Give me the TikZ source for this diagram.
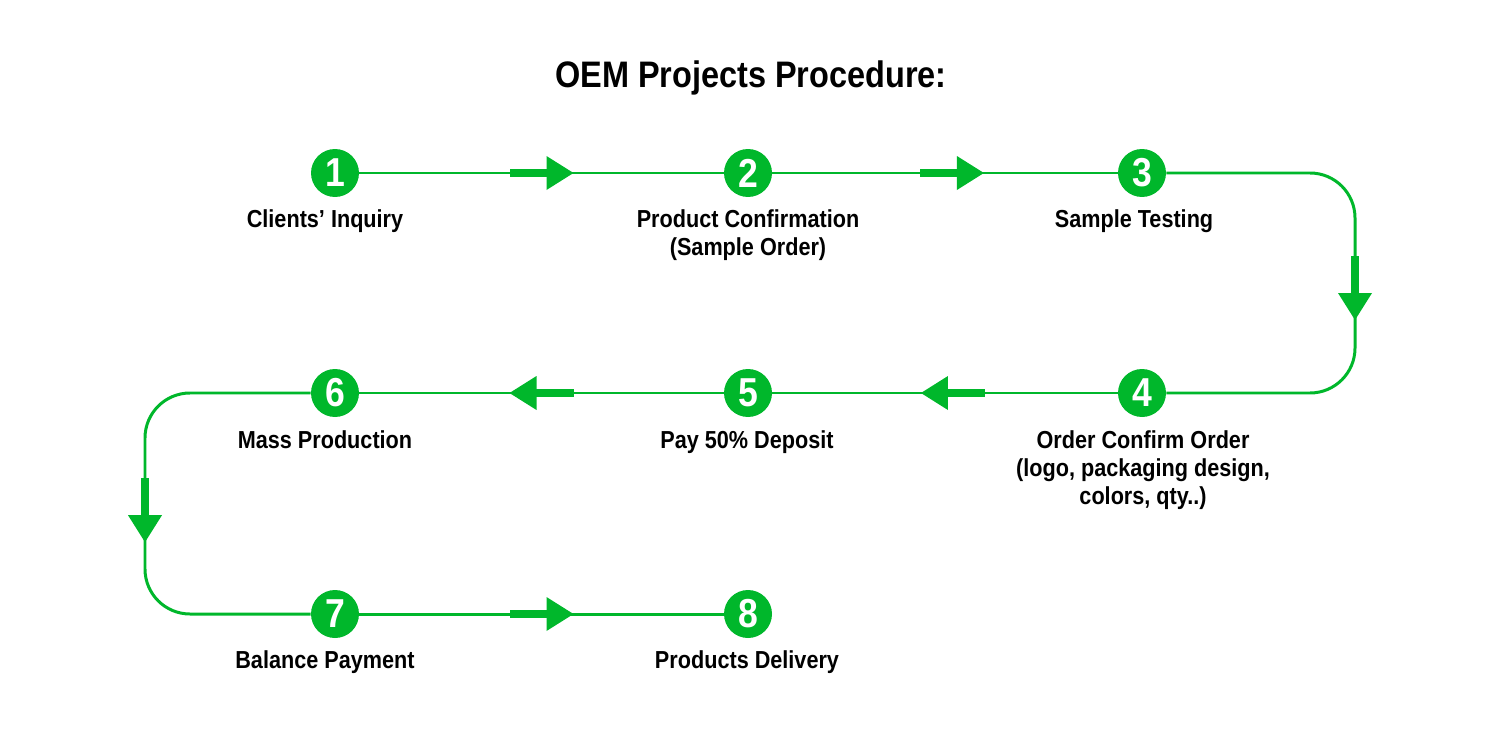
\documentclass[tikz,border=0pt]{standalone}
\usepackage{fontspec}
\setmainfont{Liberation Sans}[FakeStretch=0.88]
\usetikzlibrary{decorations.markings}
\definecolor{flowgreen}{RGB}{0,183,43}
\tikzset{
  stepdot/.style={circle, fill=flowgreen, minimum size=0.96cm, inner sep=0pt,
    text=white, font=\fontsize{23}{25}\selectfont\bfseries},
  lab/.style={anchor=north, inner sep=0pt, align=center, text=black,
    font=\fontsize{14}{15.9}\selectfont\bfseries},
  flow/.style={draw=flowgreen, line width=1.7pt},
  marker/.style={postaction={decorate}, decoration={markings,
    mark=at position #1 with {
      \fill[flowgreen, sharp corners] (-32,-4) rectangle (6,4);
      \fill[flowgreen, sharp corners] (5,-17) -- (32,0) -- (5,17) -- cycle;}}}
}
\begin{document}
\begin{tikzpicture}[x=0.02cm, y=-0.02cm]
\useasboundingbox (0,0) rectangle (1500,750);
\node[anchor=base, inner sep=0pt, font=\fontsize{21}{24}\selectfont\bfseries] (title) at (751,88) {OEM Projects Procedure:};

\node[stepdot] (n1) at (335,173) {1};
\node[stepdot] (n2) at (748,173) {2};
\node[stepdot] (n3) at (1142,173) {3};
\node[stepdot] (n4) at (1142,393) {4};
\node[stepdot] (n5) at (748,393) {5};
\node[stepdot] (n6) at (335,393) {6};
\node[stepdot] (n7) at (335,614) {7};
\node[stepdot] (n8) at (748,614) {8};

\coordinate (r1) at (1355,173);
\coordinate (r2) at (1355,393);
\coordinate (q1) at (145,393);
\coordinate (q2) at (145,614);

\draw[flow, marker=0.5] (n1) -- (n2);
\draw[flow, marker=0.52] (n2) -- (n3);
\draw[flow, marker=0.509, rounded corners=0.9cm] (n3.east) -- (r1) -- (r2) -- (n4.east);
\draw[flow, marker=0.477] (n4) -- (n5);
\draw[flow, marker=0.5] (n5) -- (n6);
\draw[flow, marker=0.513, rounded corners=0.9cm] (n6.west) -- (q1) -- (q2) -- (n7.west);
\draw[flow, marker=0.5] (n7) -- (n8);

\node[lab] (l1) at (325,209) {Clients’ Inquiry};
\node[lab] (l2) at (748,209) {Product Confirmation\\(Sample Order)};
\node[lab] (l3) at (1134,209) {Sample Testing};
\node[lab] (l4) at (1143,430) {Order Confirm Order\\(logo, packaging design,\\colors, qty..)};
\node[lab] (l5) at (747,430) {Pay 50\% Deposit};
\node[lab] (l6) at (325,430) {Mass Production};
\node[lab] (l7) at (325,650) {Balance Payment};
\node[lab] (l8) at (747,650) {Products Delivery};
\end{tikzpicture}
\end{document}
